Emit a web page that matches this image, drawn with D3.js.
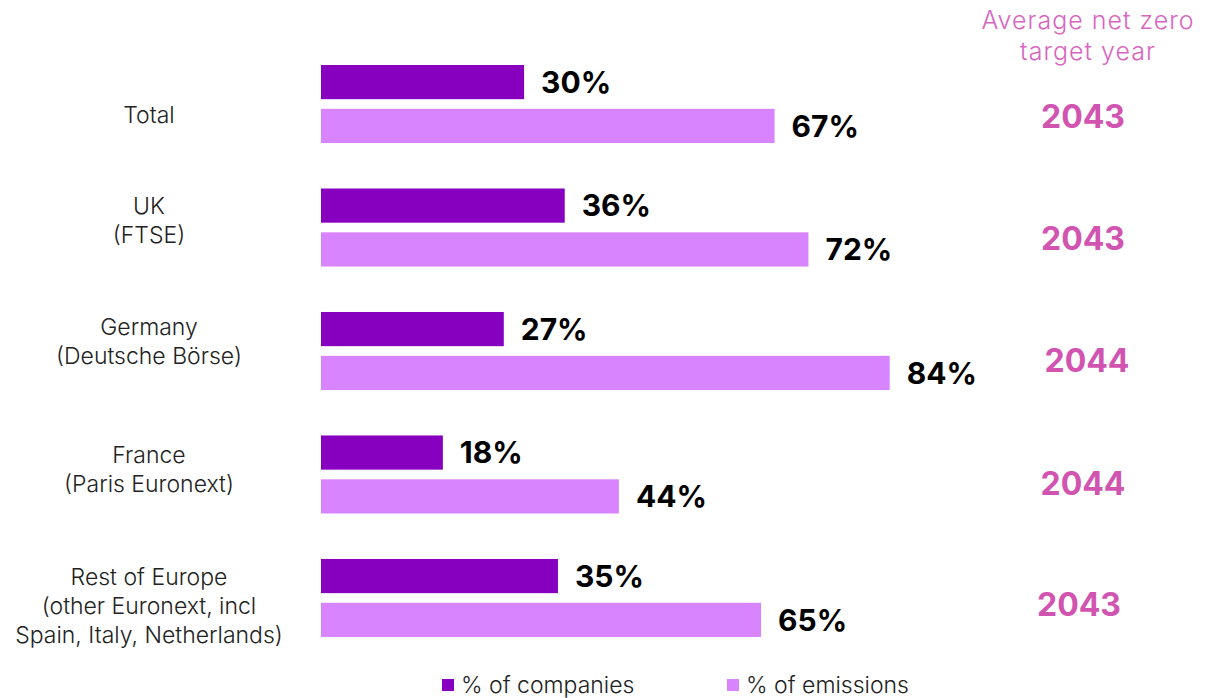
<!DOCTYPE html>
<html>
<head>
<meta charset="utf-8">
<script src="https://cdn.jsdelivr.net/npm/d3@7"></script>
<style>
  body { margin: 0; background: #fff; }
  svg { display: block; font-family: Inter, "Open Sans", sans-serif; }
</style>
</head>
<body>
<svg id="chart" width="1225" height="698"></svg>
<script>
const categories = [
  ['Total'],
  ['UK', '(FTSE)'],
  ['Germany', '(Deutsche Börse)'],
  ['France', '(Paris Euronext)'],
  ['Rest of Europe', '(other Euronext, incl', 'Spain, Italy, Netherlands)']
];
const seriesNames = ['% of companies', '% of emissions'];
const companies = [30, 36, 27, 18, 35];
const emissions = [67, 72, 84, 44, 65];
const targetYears = [2043, 2043, 2044, 2044, 2043];
const yearTitle = ['Average net zero', 'target year'];

// small nudges of labels as placed in the original
const yearDx = [0, 0, 4, 0, -4];
const yearDy = [12, 11, 9, 9, 7];
const labelDy = [11, -7.5, -10, -5, 8];

const colors = ['#8700c0', '#d883ff'];
const pink = '#d254b1';

const svg = d3.select('#chart');

const x = d3.scaleLinear().domain([0, 100]).range([321, 998]);
const y0 = d3.scaleBand()
  .domain(d3.range(categories.length))
  .range([65, 637])
  .paddingInner(0.368)
  .paddingOuter(0);
const y1 = d3.scaleBand()
  .domain([0, 1])
  .range([0, y0.bandwidth()])
  .paddingInner(0.22);

const rows = categories.map((c, i) => ({
  i, lines: c, values: [companies[i], emissions[i]], year: targetYears[i]
}));

const groups = svg.selectAll('g.row').data(rows).enter().append('g')
  .attr('class', 'row')
  .attr('transform', d => `translate(0,${y0(d.i)})`);

// bars
groups.selectAll('rect').data(d => d.values.map((v, s) => ({ v, s })))
  .enter().append('rect')
  .attr('x', x(0))
  .attr('y', d => y1(d.s))
  .attr('width', d => x(d.v) - x(0))
  .attr('height', y1.bandwidth())
  .attr('fill', d => colors[d.s]);

// value labels
groups.selectAll('text.val').data(d => d.values.map((v, s) => ({ v, s })))
  .enter().append('text')
  .attr('class', 'val')
  .attr('x', d => x(d.v) + 17)
  .attr('y', d => y1(d.s) + y1.bandwidth() / 2)
  .attr('dy', '0.36em')
  .attr('font-size', 30)
  .attr('font-weight', 700)
  .attr('fill', '#000')
  .text(d => d.v + '%');

// category labels
const lineH = 28.8;
groups.append('text')
  .attr('text-anchor', 'middle')
  .attr('font-size', 23)
  .attr('font-weight', 300)
  .attr('fill', '#222')
  .each(function (d) {
    const n = d.lines.length;
    const mid = y0.bandwidth() / 2 + labelDy[d.i];
    d3.select(this).selectAll('tspan').data(d.lines).enter().append('tspan')
      .attr('x', 149)
      .attr('y', (l, k) => mid + (k - (n - 1) / 2) * lineH)
      .attr('dy', '0.36em')
      .text(l => l);
  });

// target years
groups.append('text')
  .attr('x', d => 1083 + yearDx[d.i])
  .attr('y', d => y0.bandwidth() / 2 + yearDy[d.i])
  .attr('dy', '0.36em')
  .attr('text-anchor', 'middle')
  .attr('font-size', 32)
  .attr('font-weight', 700)
  .attr('fill', pink)
  .text(d => d.year);

// year column title
svg.append('text')
  .attr('text-anchor', 'middle')
  .attr('font-size', 25)
  .attr('font-weight', 300)
  .attr('letter-spacing', 1)
  .attr('fill', '#d866c0')
  .selectAll('tspan').data(yearTitle).enter().append('tspan')
  .attr('x', 1088)
  .attr('y', (d, k) => 20 + k * 31)
  .attr('dy', '0.36em')
  .text(d => d);

// legend
const legendX = [442, 727];
const legend = svg.selectAll('g.legend').data(seriesNames).enter().append('g')
  .attr('class', 'legend')
  .attr('transform', (d, k) => `translate(${legendX[k]},679)`);
legend.append('rect')
  .attr('width', 12).attr('height', 12)
  .attr('fill', (d, k) => colors[k]);
legend.append('text')
  .attr('x', 19)
  .attr('y', 6)
  .attr('dy', '0.36em')
  .attr('font-size', 23)
  .attr('font-weight', 300)
  .attr('fill', '#222')
  .text(d => d);
</script>
</body>
</html>
